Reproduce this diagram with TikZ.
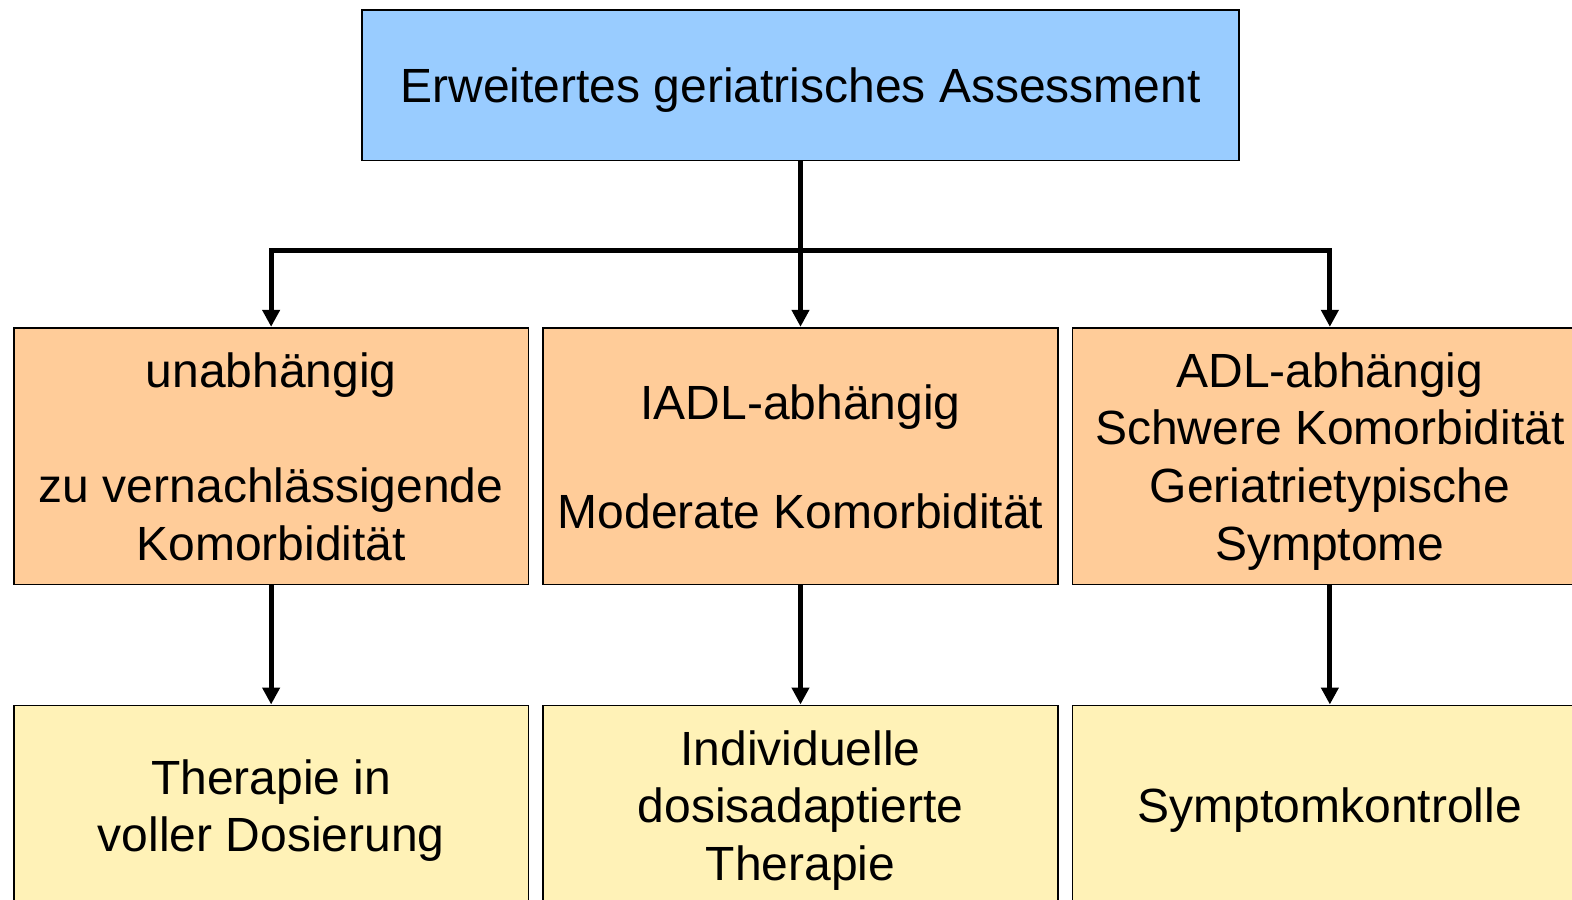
\documentclass[tikz,border=0pt]{standalone}
\usepackage{fontspec}
\setmainfont{Liberation Sans}
\usetikzlibrary{positioning,arrows.meta,calc}
\definecolor{kopfblau}{HTML}{99CCFF}
\definecolor{stufenorange}{HTML}{FFCC99}
\definecolor{therapiegelb}{HTML}{FFF2B7}
\tikzset{
  box/.style={draw, line width=0.5pt, inner sep=0pt, align=center, text depth=0pt,
    font=\fontsize{13.65}{16.4}\selectfont},
  kopf/.style={box, fill=kopfblau, minimum width=8.77cm, minimum height=1.504cm},
  stufe/.style={box, fill=stufenorange, minimum width=5.143cm, minimum height=2.567cm},
  therapie/.style={box, fill=therapiegelb, minimum width=5.143cm, minimum height=2cm},
  pfeil/.style={line width=1.4pt, -{Triangle[length=0.17cm,width=0.17cm]}},
}

\begin{document}
\begin{tikzpicture}[x=0.01cm, y=-0.01cm]
  \useasboundingbox (0,0) rectangle (1572,899);
  \clip (0,0) rectangle (1572,899);

  \node[kopf] (assessment) at (800.5,85.2) {Erweitertes geriatrisches Assessment};

  % mittlere Reihe
  \node[stufe] (iadl) [below = 1.654cm of assessment]
    {IADL-abh\"angig\\[14.6pt]Moderate Komorbidit\"at};
  \node[stufe] (unabh) [left = 0.13cm of iadl]
    {unabh\"angig\\[\baselineskip]zu vernachl\"assigende\\Komorbidit\"at};
  \node[stufe] (adl) [right = 0.13cm of iadl]
    {ADL-abh\"angig\\Schwere Komorbidit\"at\\Geriatrietypische\\Symptome};

  % untere Reihe
  \node[therapie] (voll) [below = 1.19cm of unabh] {Therapie in\\voller Dosierung};
  \node[therapie] (dosis) [below = 1.19cm of iadl] {Individuelle\\dosisadaptierte\\Therapie};
  \node[therapie] (symptom) [below = 1.19cm of adl] {Symptomkontrolle};

  \coordinate (verteiler) at ($(assessment.south)!0.54!(iadl.north)$);
  \draw[line width=1.4pt] (unabh.north |- verteiler) -- (adl.north |- verteiler);
  \draw[pfeil] (assessment) -- (iadl);
  \draw[pfeil] (verteiler) -| (unabh);
  \draw[pfeil] (verteiler) -| (adl);

  \draw[pfeil] (unabh) -- (voll);
  \draw[pfeil] (iadl) -- (dosis);
  \draw[pfeil] (adl) -- (symptom);
\end{tikzpicture}
\end{document}
